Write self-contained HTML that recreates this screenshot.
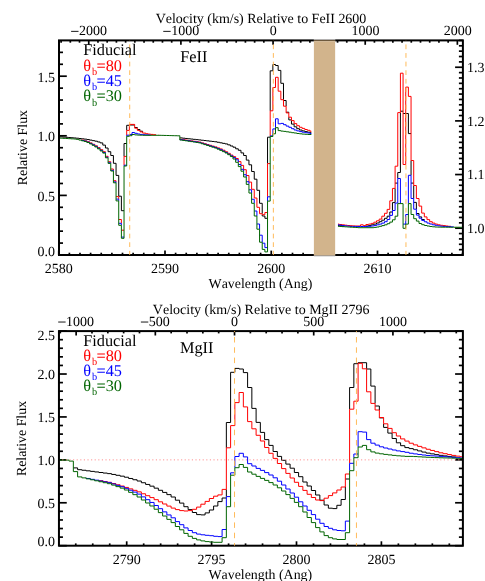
<!DOCTYPE html>
<html><head><meta charset="utf-8"><title>Spectra</title>
<style>
html,body{margin:0;padding:0;background:#fff;}
body{width:485px;height:581px;overflow:hidden;font-family:"Liberation Serif",serif;}
svg{display:block;font-family:"Liberation Serif",serif;will-change:transform;}
svg path{fill:none;stroke-width:1;stroke-linejoin:miter;}
svg text{text-rendering:geometricPrecision;font-kerning:none;}
</style></head><body>
<svg width="485" height="581" viewBox="0 0 485 581">
<rect width="485" height="581" fill="#fff"/>
<defs><clipPath id="c1"><rect x="59.9" y="41.3" width="402.10" height="212.80"/></clipPath><clipPath id="c2"><rect x="59.85" y="332.0" width="402.15" height="212.80"/></clipPath></defs>
<rect x="59.00" y="40.40" width="403.90" height="214.60" fill="none" stroke="#000" stroke-width="2.0"/>
<rect x="313.90" y="39.2" width="21.25" height="217.2" fill="#fff"/>
<rect x="313.90" y="39.25" width="21.25" height="0.75" fill="#a8a8a8"/>
<rect x="313.90" y="39.95" width="21.25" height="1.35" fill="#6e5a3e"/>
<rect x="313.90" y="41.25" width="21.25" height="213.85" fill="#d2b48c"/>
<rect x="313.90" y="255.05" width="21.25" height="0.7" fill="#8f7655"/>
<rect x="313.90" y="255.7" width="21.25" height="0.6" fill="#a0a0a4"/>
<line x1="58.75" y1="255.00" x2="58.75" y2="250.60" stroke="#000" stroke-width="1.7" />
<line x1="69.38" y1="255.00" x2="69.38" y2="252.70" stroke="#000" stroke-width="1.7" />
<line x1="80.00" y1="255.00" x2="80.00" y2="252.70" stroke="#000" stroke-width="1.7" />
<line x1="90.62" y1="255.00" x2="90.62" y2="252.70" stroke="#000" stroke-width="1.7" />
<line x1="101.25" y1="255.00" x2="101.25" y2="252.70" stroke="#000" stroke-width="1.7" />
<line x1="111.88" y1="255.00" x2="111.88" y2="252.70" stroke="#000" stroke-width="1.7" />
<line x1="122.50" y1="255.00" x2="122.50" y2="252.70" stroke="#000" stroke-width="1.7" />
<line x1="133.12" y1="255.00" x2="133.12" y2="252.70" stroke="#000" stroke-width="1.7" />
<line x1="143.75" y1="255.00" x2="143.75" y2="252.70" stroke="#000" stroke-width="1.7" />
<line x1="154.38" y1="255.00" x2="154.38" y2="252.70" stroke="#000" stroke-width="1.7" />
<line x1="165.00" y1="255.00" x2="165.00" y2="250.60" stroke="#000" stroke-width="1.7" />
<line x1="175.62" y1="255.00" x2="175.62" y2="252.70" stroke="#000" stroke-width="1.7" />
<line x1="186.25" y1="255.00" x2="186.25" y2="252.70" stroke="#000" stroke-width="1.7" />
<line x1="196.88" y1="255.00" x2="196.88" y2="252.70" stroke="#000" stroke-width="1.7" />
<line x1="207.50" y1="255.00" x2="207.50" y2="252.70" stroke="#000" stroke-width="1.7" />
<line x1="218.12" y1="255.00" x2="218.12" y2="252.70" stroke="#000" stroke-width="1.7" />
<line x1="228.75" y1="255.00" x2="228.75" y2="252.70" stroke="#000" stroke-width="1.7" />
<line x1="239.38" y1="255.00" x2="239.38" y2="252.70" stroke="#000" stroke-width="1.7" />
<line x1="250.00" y1="255.00" x2="250.00" y2="252.70" stroke="#000" stroke-width="1.7" />
<line x1="260.62" y1="255.00" x2="260.62" y2="252.70" stroke="#000" stroke-width="1.7" />
<line x1="271.25" y1="255.00" x2="271.25" y2="250.60" stroke="#000" stroke-width="1.7" />
<line x1="281.88" y1="255.00" x2="281.88" y2="252.70" stroke="#000" stroke-width="1.7" />
<line x1="292.50" y1="255.00" x2="292.50" y2="252.70" stroke="#000" stroke-width="1.7" />
<line x1="303.12" y1="255.00" x2="303.12" y2="252.70" stroke="#000" stroke-width="1.7" />
<line x1="345.62" y1="255.00" x2="345.62" y2="252.70" stroke="#000" stroke-width="1.7" />
<line x1="356.25" y1="255.00" x2="356.25" y2="252.70" stroke="#000" stroke-width="1.7" />
<line x1="366.88" y1="255.00" x2="366.88" y2="252.70" stroke="#000" stroke-width="1.7" />
<line x1="377.50" y1="255.00" x2="377.50" y2="250.60" stroke="#000" stroke-width="1.7" />
<line x1="388.12" y1="255.00" x2="388.12" y2="252.70" stroke="#000" stroke-width="1.7" />
<line x1="398.75" y1="255.00" x2="398.75" y2="252.70" stroke="#000" stroke-width="1.7" />
<line x1="409.38" y1="255.00" x2="409.38" y2="252.70" stroke="#000" stroke-width="1.7" />
<line x1="420.00" y1="255.00" x2="420.00" y2="252.70" stroke="#000" stroke-width="1.7" />
<line x1="430.62" y1="255.00" x2="430.62" y2="252.70" stroke="#000" stroke-width="1.7" />
<line x1="441.25" y1="255.00" x2="441.25" y2="252.70" stroke="#000" stroke-width="1.7" />
<line x1="451.88" y1="255.00" x2="451.88" y2="252.70" stroke="#000" stroke-width="1.7" />
<line x1="462.50" y1="255.00" x2="462.50" y2="252.70" stroke="#000" stroke-width="1.7" />
<line x1="61.10" y1="40.40" x2="61.10" y2="42.70" stroke="#000" stroke-width="1.7" />
<line x1="70.32" y1="40.40" x2="70.32" y2="42.70" stroke="#000" stroke-width="1.7" />
<line x1="79.53" y1="40.40" x2="79.53" y2="42.70" stroke="#000" stroke-width="1.7" />
<line x1="88.75" y1="40.40" x2="88.75" y2="44.80" stroke="#000" stroke-width="1.7" />
<line x1="97.97" y1="40.40" x2="97.97" y2="42.70" stroke="#000" stroke-width="1.7" />
<line x1="107.18" y1="40.40" x2="107.18" y2="42.70" stroke="#000" stroke-width="1.7" />
<line x1="116.40" y1="40.40" x2="116.40" y2="42.70" stroke="#000" stroke-width="1.7" />
<line x1="125.61" y1="40.40" x2="125.61" y2="42.70" stroke="#000" stroke-width="1.7" />
<line x1="134.83" y1="40.40" x2="134.83" y2="42.70" stroke="#000" stroke-width="1.7" />
<line x1="144.04" y1="40.40" x2="144.04" y2="42.70" stroke="#000" stroke-width="1.7" />
<line x1="153.26" y1="40.40" x2="153.26" y2="42.70" stroke="#000" stroke-width="1.7" />
<line x1="162.47" y1="40.40" x2="162.47" y2="42.70" stroke="#000" stroke-width="1.7" />
<line x1="171.69" y1="40.40" x2="171.69" y2="42.70" stroke="#000" stroke-width="1.7" />
<line x1="180.90" y1="40.40" x2="180.90" y2="44.80" stroke="#000" stroke-width="1.7" />
<line x1="190.12" y1="40.40" x2="190.12" y2="42.70" stroke="#000" stroke-width="1.7" />
<line x1="199.33" y1="40.40" x2="199.33" y2="42.70" stroke="#000" stroke-width="1.7" />
<line x1="208.55" y1="40.40" x2="208.55" y2="42.70" stroke="#000" stroke-width="1.7" />
<line x1="217.76" y1="40.40" x2="217.76" y2="42.70" stroke="#000" stroke-width="1.7" />
<line x1="226.98" y1="40.40" x2="226.98" y2="42.70" stroke="#000" stroke-width="1.7" />
<line x1="236.20" y1="40.40" x2="236.20" y2="42.70" stroke="#000" stroke-width="1.7" />
<line x1="245.41" y1="40.40" x2="245.41" y2="42.70" stroke="#000" stroke-width="1.7" />
<line x1="254.63" y1="40.40" x2="254.63" y2="42.70" stroke="#000" stroke-width="1.7" />
<line x1="263.84" y1="40.40" x2="263.84" y2="42.70" stroke="#000" stroke-width="1.7" />
<line x1="273.06" y1="40.40" x2="273.06" y2="44.80" stroke="#000" stroke-width="1.7" />
<line x1="282.27" y1="40.40" x2="282.27" y2="42.70" stroke="#000" stroke-width="1.7" />
<line x1="291.49" y1="40.40" x2="291.49" y2="42.70" stroke="#000" stroke-width="1.7" />
<line x1="300.70" y1="40.40" x2="300.70" y2="42.70" stroke="#000" stroke-width="1.7" />
<line x1="309.92" y1="40.40" x2="309.92" y2="42.70" stroke="#000" stroke-width="1.7" />
<line x1="337.56" y1="40.40" x2="337.56" y2="42.70" stroke="#000" stroke-width="1.7" />
<line x1="346.78" y1="40.40" x2="346.78" y2="42.70" stroke="#000" stroke-width="1.7" />
<line x1="355.99" y1="40.40" x2="355.99" y2="42.70" stroke="#000" stroke-width="1.7" />
<line x1="365.21" y1="40.40" x2="365.21" y2="44.80" stroke="#000" stroke-width="1.7" />
<line x1="374.42" y1="40.40" x2="374.42" y2="42.70" stroke="#000" stroke-width="1.7" />
<line x1="383.64" y1="40.40" x2="383.64" y2="42.70" stroke="#000" stroke-width="1.7" />
<line x1="392.86" y1="40.40" x2="392.86" y2="42.70" stroke="#000" stroke-width="1.7" />
<line x1="402.07" y1="40.40" x2="402.07" y2="42.70" stroke="#000" stroke-width="1.7" />
<line x1="411.29" y1="40.40" x2="411.29" y2="42.70" stroke="#000" stroke-width="1.7" />
<line x1="420.50" y1="40.40" x2="420.50" y2="42.70" stroke="#000" stroke-width="1.7" />
<line x1="429.72" y1="40.40" x2="429.72" y2="42.70" stroke="#000" stroke-width="1.7" />
<line x1="438.93" y1="40.40" x2="438.93" y2="42.70" stroke="#000" stroke-width="1.7" />
<line x1="448.15" y1="40.40" x2="448.15" y2="42.70" stroke="#000" stroke-width="1.7" />
<line x1="457.36" y1="40.40" x2="457.36" y2="44.80" stroke="#000" stroke-width="1.7" />
<line x1="59.00" y1="255.00" x2="66.80" y2="255.00" stroke="#000" stroke-width="1.7" />
<line x1="59.00" y1="243.08" x2="63.00" y2="243.08" stroke="#000" stroke-width="1.7" />
<line x1="59.00" y1="231.16" x2="63.00" y2="231.16" stroke="#000" stroke-width="1.7" />
<line x1="59.00" y1="219.24" x2="63.00" y2="219.24" stroke="#000" stroke-width="1.7" />
<line x1="59.00" y1="207.32" x2="63.00" y2="207.32" stroke="#000" stroke-width="1.7" />
<line x1="59.00" y1="195.40" x2="66.80" y2="195.40" stroke="#000" stroke-width="1.7" />
<line x1="59.00" y1="183.48" x2="63.00" y2="183.48" stroke="#000" stroke-width="1.7" />
<line x1="59.00" y1="171.56" x2="63.00" y2="171.56" stroke="#000" stroke-width="1.7" />
<line x1="59.00" y1="159.64" x2="63.00" y2="159.64" stroke="#000" stroke-width="1.7" />
<line x1="59.00" y1="147.72" x2="63.00" y2="147.72" stroke="#000" stroke-width="1.7" />
<line x1="59.00" y1="135.80" x2="66.80" y2="135.80" stroke="#000" stroke-width="1.7" />
<line x1="59.00" y1="123.88" x2="63.00" y2="123.88" stroke="#000" stroke-width="1.7" />
<line x1="59.00" y1="111.96" x2="63.00" y2="111.96" stroke="#000" stroke-width="1.7" />
<line x1="59.00" y1="100.04" x2="63.00" y2="100.04" stroke="#000" stroke-width="1.7" />
<line x1="59.00" y1="88.12" x2="63.00" y2="88.12" stroke="#000" stroke-width="1.7" />
<line x1="59.00" y1="76.20" x2="66.80" y2="76.20" stroke="#000" stroke-width="1.7" />
<line x1="59.00" y1="64.28" x2="63.00" y2="64.28" stroke="#000" stroke-width="1.7" />
<line x1="59.00" y1="52.36" x2="63.00" y2="52.36" stroke="#000" stroke-width="1.7" />
<line x1="462.90" y1="255.03" x2="458.90" y2="255.03" stroke="#000" stroke-width="1.7" />
<line x1="462.90" y1="249.66" x2="458.90" y2="249.66" stroke="#000" stroke-width="1.7" />
<line x1="462.90" y1="244.30" x2="458.90" y2="244.30" stroke="#000" stroke-width="1.7" />
<line x1="462.90" y1="238.93" x2="458.90" y2="238.93" stroke="#000" stroke-width="1.7" />
<line x1="462.90" y1="233.56" x2="458.90" y2="233.56" stroke="#000" stroke-width="1.7" />
<line x1="462.90" y1="228.20" x2="455.10" y2="228.20" stroke="#000" stroke-width="1.7" />
<line x1="462.90" y1="222.83" x2="458.90" y2="222.83" stroke="#000" stroke-width="1.7" />
<line x1="462.90" y1="217.47" x2="458.90" y2="217.47" stroke="#000" stroke-width="1.7" />
<line x1="462.90" y1="212.10" x2="458.90" y2="212.10" stroke="#000" stroke-width="1.7" />
<line x1="462.90" y1="206.74" x2="458.90" y2="206.74" stroke="#000" stroke-width="1.7" />
<line x1="462.90" y1="201.37" x2="458.90" y2="201.37" stroke="#000" stroke-width="1.7" />
<line x1="462.90" y1="196.01" x2="458.90" y2="196.01" stroke="#000" stroke-width="1.7" />
<line x1="462.90" y1="190.64" x2="458.90" y2="190.64" stroke="#000" stroke-width="1.7" />
<line x1="462.90" y1="185.28" x2="458.90" y2="185.28" stroke="#000" stroke-width="1.7" />
<line x1="462.90" y1="179.91" x2="458.90" y2="179.91" stroke="#000" stroke-width="1.7" />
<line x1="462.90" y1="174.55" x2="455.10" y2="174.55" stroke="#000" stroke-width="1.7" />
<line x1="462.90" y1="169.18" x2="458.90" y2="169.18" stroke="#000" stroke-width="1.7" />
<line x1="462.90" y1="163.82" x2="458.90" y2="163.82" stroke="#000" stroke-width="1.7" />
<line x1="462.90" y1="158.46" x2="458.90" y2="158.46" stroke="#000" stroke-width="1.7" />
<line x1="462.90" y1="153.09" x2="458.90" y2="153.09" stroke="#000" stroke-width="1.7" />
<line x1="462.90" y1="147.73" x2="458.90" y2="147.73" stroke="#000" stroke-width="1.7" />
<line x1="462.90" y1="142.36" x2="458.90" y2="142.36" stroke="#000" stroke-width="1.7" />
<line x1="462.90" y1="137.00" x2="458.90" y2="137.00" stroke="#000" stroke-width="1.7" />
<line x1="462.90" y1="131.63" x2="458.90" y2="131.63" stroke="#000" stroke-width="1.7" />
<line x1="462.90" y1="126.27" x2="458.90" y2="126.27" stroke="#000" stroke-width="1.7" />
<line x1="462.90" y1="120.90" x2="455.10" y2="120.90" stroke="#000" stroke-width="1.7" />
<line x1="462.90" y1="115.54" x2="458.90" y2="115.54" stroke="#000" stroke-width="1.7" />
<line x1="462.90" y1="110.17" x2="458.90" y2="110.17" stroke="#000" stroke-width="1.7" />
<line x1="462.90" y1="104.80" x2="458.90" y2="104.80" stroke="#000" stroke-width="1.7" />
<line x1="462.90" y1="99.44" x2="458.90" y2="99.44" stroke="#000" stroke-width="1.7" />
<line x1="462.90" y1="94.07" x2="458.90" y2="94.07" stroke="#000" stroke-width="1.7" />
<line x1="462.90" y1="88.71" x2="458.90" y2="88.71" stroke="#000" stroke-width="1.7" />
<line x1="462.90" y1="83.34" x2="458.90" y2="83.34" stroke="#000" stroke-width="1.7" />
<line x1="462.90" y1="77.98" x2="458.90" y2="77.98" stroke="#000" stroke-width="1.7" />
<line x1="462.90" y1="72.61" x2="458.90" y2="72.61" stroke="#000" stroke-width="1.7" />
<line x1="462.90" y1="67.25" x2="455.10" y2="67.25" stroke="#000" stroke-width="1.7" />
<line x1="462.90" y1="61.88" x2="458.90" y2="61.88" stroke="#000" stroke-width="1.7" />
<line x1="462.90" y1="56.52" x2="458.90" y2="56.52" stroke="#000" stroke-width="1.7" />
<line x1="462.90" y1="51.15" x2="458.90" y2="51.15" stroke="#000" stroke-width="1.7" />
<line x1="462.90" y1="45.79" x2="458.90" y2="45.79" stroke="#000" stroke-width="1.7" />
<line x1="462.90" y1="40.42" x2="458.90" y2="40.42" stroke="#000" stroke-width="1.7" />
<g clip-path="url(#c1)">
<path d="M60.70 136.80L60.26 136.80L60.26 136.88L62.91 136.88L62.91 137.10L65.57 137.10L65.57 137.31L68.23 137.31L68.23 137.53L70.89 137.53L70.89 137.74L73.54 137.74L73.54 137.96L76.20 137.96L76.20 138.21L78.86 138.21L78.86 138.52L81.52 138.52L81.52 138.83L84.17 138.83L84.17 139.14L86.83 139.14L86.83 139.56L89.49 139.56L89.49 140.10L92.15 140.10L92.15 140.64L94.80 140.64L94.80 141.18L97.46 141.18L97.46 141.96L100.12 141.96L100.12 142.90L102.78 142.90L102.78 145.10L105.43 145.10L105.43 148.00L108.09 148.00L108.09 151.70L110.75 151.70L110.75 155.50L113.41 155.50L113.41 163.30L116.06 163.30L116.06 175.40L118.72 175.40L118.72 196.20L121.38 196.20L121.38 210.70L124.04 210.70 M124.04 156.40L124.04 143.50L126.69 143.50 M126.69 130.40L126.69 125.30L129.35 125.30 M129.35 125.00L134.67 125.00 M134.67 127.50L137.32 127.50L137.32 128.20 M137.32 129.50L139.98 129.50L139.98 130.40 M139.98 131.20L142.64 131.20L142.64 131.90 M145.30 132.80L145.30 133.10 M147.95 134.10L147.95 134.20 M150.61 134.40L150.61 134.50 M153.27 134.70L153.27 134.80 M155.93 134.85L155.93 134.95 M158.58 135.00L158.58 135.10 M161.24 135.10L161.24 135.19 M163.90 135.19L163.90 135.27 M166.56 135.27L166.56 135.34 M169.21 135.36L169.21 135.41 M179.84 137.90L182.50 137.90L182.50 138.19L185.16 138.19L185.16 138.48L187.82 138.48L187.82 138.77L190.47 138.77L190.47 139.06L193.13 139.06L193.13 139.35L195.79 139.35L195.79 139.64L198.45 139.64L198.45 139.93L201.10 139.93L201.10 140.24L203.76 140.24L203.76 140.54L206.42 140.54L206.42 140.85L209.08 140.85L209.08 141.16L211.73 141.16L211.73 141.46L214.39 141.46L214.39 141.77L217.05 141.77L217.05 142.28L219.71 142.28L219.71 142.82L222.36 142.82L222.36 143.36L225.02 143.36L225.02 143.90L227.68 143.90L227.68 144.85L230.34 144.85L230.34 146.00L232.99 146.00L232.99 147.20L235.65 147.20L235.65 148.80L238.31 148.80L238.31 150.30L240.97 150.30L240.97 152.90L243.62 152.90L243.62 155.50L246.28 155.50L246.28 160.10L248.94 160.10L248.94 164.80L251.60 164.80L251.60 171.50L254.25 171.50L254.25 179.20L256.91 179.20L256.91 190.30L259.57 190.30L259.57 203.30L262.23 203.30L262.23 213.70 M262.23 214.70L262.23 216.00L264.88 216.00L264.88 218.30L267.54 218.30 M267.54 163.60L267.54 137.20L270.20 137.20 M270.20 110.80L270.20 70.80L272.86 70.80L272.86 64.50L275.51 64.50L275.51 65.50L278.17 65.50L278.17 70.40L280.83 70.40L280.83 83.30L283.49 83.30L283.49 99.70 M283.49 100.50L286.14 100.50L286.14 106.20 M286.14 112.20L288.80 112.20L288.80 112.90 M288.80 117.20L288.80 119.90L291.46 119.90 M291.46 120.60L291.46 124.10L294.12 124.10L294.12 126.80L296.77 126.80L296.77 128.70L299.43 128.70L299.43 130.00L302.09 130.00L302.09 130.90L304.75 130.90L304.75 131.60L307.40 131.60L307.40 132.20L310.06 132.20L310.06 132.70L311.39 132.70" stroke="#000000"/>
<path d="M60.26 137.70L60.26 137.76 M62.91 137.76L62.91 137.93 M65.57 137.93L65.57 138.09 M68.23 138.09L68.23 138.26 M70.89 138.26L70.89 138.43 M73.54 138.43L73.54 138.59 M76.20 138.59L76.20 138.79 M78.86 138.92L78.86 139.14 M81.52 139.54L81.52 139.81 M81.52 140.16L84.17 140.16L84.17 140.48 M84.17 140.77L86.83 140.77L86.83 141.15 M86.83 141.68L89.49 141.68L89.49 142.11 M89.49 142.91L92.15 142.91L92.15 143.38 M92.15 144.28L94.80 144.28L94.80 144.81 M94.80 145.79L97.46 145.79L97.46 146.37 M97.46 147.62L100.12 147.62L100.12 148.27 M100.12 149.66L102.78 149.66L102.78 150.38 M102.78 151.70L105.43 151.70L105.43 152.50 M105.43 156.30L108.09 156.30L108.09 157.20 M108.09 161.70L110.75 161.70L110.75 162.70 M110.75 169.00L113.41 169.00L113.41 170.30 M113.41 180.70L116.06 180.70L116.06 181.90 M116.06 196.60L118.72 196.60L118.72 199.10 M118.72 219.50L121.38 219.50L121.38 223.30 M121.38 230.20L124.04 230.20 M124.04 165.20L124.04 156.40L126.69 156.40 M126.69 135.20L126.69 130.40L129.35 130.40L129.35 124.40L134.67 124.40L134.67 128.20L137.32 128.20L137.32 130.40L139.98 130.40L139.98 131.90L142.64 131.90L142.64 133.10L145.30 133.10L145.30 133.70L147.95 133.70L147.95 134.10L150.61 134.10L150.61 134.40L153.27 134.40L153.27 134.70L155.93 134.70L155.93 134.85 M158.58 134.85L158.58 135.00 M161.24 135.00L161.24 135.09 M163.90 135.09L163.90 135.17 M166.56 135.17L166.56 135.26 M169.21 135.26L169.21 135.34 M171.87 135.34L171.87 135.43 M174.53 135.43L174.53 135.51 M177.19 135.51L177.19 135.60 M179.84 135.60L179.84 135.70 M179.84 139.30L182.50 139.30L182.50 139.69L185.16 139.69L185.16 140.08L187.82 140.08L187.82 140.47L190.47 140.47L190.47 140.87L193.13 140.87L193.13 141.26L195.79 141.26L195.79 141.65L198.45 141.65L198.45 142.05L201.10 142.08L201.10 142.49 M201.10 142.89L203.76 142.89L203.76 143.32 M203.76 143.69L206.42 143.69L206.42 144.16 M206.42 144.50L209.08 144.50L209.08 145.00 M209.08 145.30L211.73 145.30L211.73 145.84 M211.73 146.11L214.39 146.11L214.39 146.67 M214.39 146.92L217.05 146.92L217.05 147.51 M217.05 147.91L219.71 147.91L219.71 148.59 M219.71 148.93L222.36 148.93L222.36 149.70 M222.36 150.24L225.02 150.24L225.02 151.04 M225.02 151.73L227.68 151.73L227.68 152.53 M227.68 153.37L230.34 153.37L230.34 154.17 M230.34 155.09L232.99 155.09L232.99 155.89 M232.99 156.60L235.65 156.60L235.65 157.60 M235.65 158.50L238.31 158.50L238.31 159.80 M238.31 161.60L240.97 161.60L240.97 164.50 M240.97 165.40L243.62 165.40L243.62 169.30 M243.62 169.70L246.28 169.70L246.28 174.70 M246.28 175.50L248.94 175.50L248.94 181.70 M248.94 182.10L251.60 182.10L251.60 189.30L254.25 189.30L254.25 198.00L256.91 198.00L256.91 207.30L259.57 207.30L259.57 213.70L262.23 213.70L262.23 214.70L264.88 214.70L264.88 212.50L267.54 212.50 M267.54 196.80L267.54 163.60L270.20 163.60 M270.20 135.90L270.20 110.80L272.86 110.80L272.86 87.50L275.51 87.50L275.51 77.30L278.17 77.30L278.17 91.20L280.83 91.20L280.83 99.70L283.49 99.70L283.49 106.20L286.14 106.20L286.14 112.90L288.80 112.90L288.80 117.20L291.46 117.20L291.46 120.60L294.12 120.60L294.12 123.60L296.77 123.60L296.77 125.70L299.43 125.70L299.43 127.30L302.09 127.30L302.09 128.40L304.75 128.40L304.75 129.50L307.40 129.50L307.40 130.30L310.06 130.30L310.06 131.30L311.39 131.30" stroke="#ff0000"/>
<path d="M60.26 137.90L60.26 137.96 M62.91 137.96L62.91 138.13 M65.57 138.13L65.57 138.29 M68.23 138.29L68.23 138.46 M70.89 138.46L70.89 138.63 M73.54 138.63L73.54 138.79 M76.20 138.79L76.20 138.99 M78.86 139.14L78.86 139.35 M81.52 139.81L81.52 140.08 M81.52 140.48L84.17 140.48L84.17 140.80 M84.17 141.15L86.83 141.15L86.83 141.52 M86.83 142.11L89.49 142.11L89.49 142.53 M89.49 143.38L92.15 143.38L92.15 143.86 M92.15 144.81L94.80 144.81L94.80 145.34 M94.80 146.37L97.46 146.37L97.46 146.95 M97.46 148.27L100.12 148.27L100.12 148.87 M100.12 150.38L102.78 150.38L102.78 150.98 M102.78 152.50L105.43 152.50L105.43 153.10 M105.43 157.20L108.09 157.20L108.09 157.80 M108.09 162.70L110.75 162.70L110.75 163.40 M110.75 170.30L113.41 170.30L113.41 171.00 M113.41 181.90L116.06 181.90L116.06 182.80 M116.06 199.10L118.72 199.10L118.72 200.90 M118.72 223.30L121.38 223.30L121.38 225.30 M121.38 237.10L124.04 237.10 M124.04 166.00L124.04 165.20L126.69 165.20 M126.69 136.30L126.69 135.20L129.35 135.20L129.35 134.50L132.01 134.50L132.01 132.50L134.67 132.50L134.67 133.30L137.32 133.30L137.32 134.00L139.98 134.00L139.98 134.40L142.64 134.40L142.64 134.70L145.30 134.70L145.30 134.85L147.95 134.85L147.95 135.00L150.61 135.00L150.61 135.05 M158.58 135.15L158.58 135.20 M161.24 135.20L161.24 135.27 M163.90 135.27L163.90 135.34 M166.56 135.34L166.56 135.41 M169.21 135.41L169.21 135.49 M171.87 135.49L171.87 135.56 M174.53 135.56L174.53 135.63 M177.19 135.63L177.19 135.70 M179.84 135.70L179.84 135.80 M179.84 139.70L182.50 139.70L182.50 140.00 M182.50 140.09L185.16 140.09L185.16 140.41 M185.16 140.48L187.82 140.48L187.82 140.81 M187.82 140.87L190.47 140.87L190.47 141.22L193.13 141.27L193.13 141.62L195.79 141.66L195.79 142.03L198.45 142.05L198.45 142.44L201.10 142.49L201.10 142.89 M201.10 143.32L203.76 143.32L203.76 143.74 M203.76 144.16L206.42 144.16L206.42 144.60 M206.42 145.00L209.08 145.00L209.08 145.45 M209.08 145.84L211.73 145.84L211.73 146.30 M211.73 146.67L214.39 146.67L214.39 147.16 M214.39 147.51L217.05 147.51L217.05 148.01 M217.05 148.59L219.71 148.59L219.71 149.17 M219.71 149.70L222.36 149.70L222.36 150.37 M222.36 151.04L225.02 151.04L225.02 151.65 M225.02 152.53L227.68 152.53L227.68 152.98 M227.68 154.17L230.34 154.17L230.34 154.68 M230.34 155.89L232.99 155.89L232.99 156.55 M232.99 157.60L235.65 157.60L235.65 159.00 M235.65 159.80L238.31 159.80L238.31 162.30 M238.31 164.50L240.97 164.50L240.97 166.60 M240.97 169.30L243.62 169.30L243.62 171.20 M243.62 174.70L246.28 174.70L246.28 177.00 M246.28 181.70L248.94 181.70L248.94 184.40 M248.94 189.80L251.60 189.80L251.60 193.05 M251.60 199.25L254.25 199.25L254.25 203.30 M254.25 211.00L256.91 211.00L256.91 216.00 M256.91 224.00L259.57 224.00L259.57 229.20 M259.57 235.20L262.23 235.20L262.23 242.20 M262.23 243.20L264.88 243.20L264.88 247.60L267.54 247.60 M267.54 201.10L267.54 196.80L270.20 196.80 M270.20 136.50L270.20 135.90L272.86 135.90 M272.86 133.80L272.86 128.90L275.51 128.90 M275.51 127.70L275.51 118.80L278.17 118.80L278.17 123.80L280.83 123.80L280.83 123.40L283.49 123.40L283.49 124.70L286.14 124.70L286.14 126.10L288.80 126.10L288.80 127.30L291.46 127.30L291.46 128.70L294.12 128.70L294.12 130.00L296.77 130.00L296.77 130.90L299.43 130.90L299.43 131.60L302.09 131.60L302.09 132.20L304.75 132.20L304.75 132.70L307.40 132.70L307.40 133.00L310.06 133.00L310.06 133.50L311.39 133.50" stroke="#0000ff"/>
<path d="M60.70 138.10L60.26 138.10L60.26 138.16L62.91 138.16L62.91 138.33L65.57 138.33L65.57 138.49L68.23 138.49L68.23 138.66L70.89 138.66L70.89 138.83L73.54 138.83L73.54 138.99L76.20 138.99L76.20 139.35L78.86 139.35L78.86 140.08L81.52 140.08L81.52 140.80L84.17 140.80L84.17 141.52L86.83 141.52L86.83 142.53L89.49 142.53L89.49 143.86L92.15 143.86L92.15 145.34L94.80 145.34L94.80 146.95L97.46 146.95L97.46 148.87L100.12 148.87L100.12 150.98L102.78 150.98L102.78 153.10L105.43 153.10L105.43 157.80L108.09 157.80L108.09 163.40L110.75 163.40L110.75 171.00L113.41 171.00L113.41 182.80L116.06 182.80L116.06 200.90L118.72 200.90L118.72 225.30L121.38 225.30L121.38 238.30L124.04 238.30L124.04 166.00L126.69 166.00L126.69 136.30L129.35 136.30L129.35 135.70L132.01 135.70L132.01 134.50L134.67 134.50L134.67 134.90L137.32 134.90L137.32 135.10L139.98 135.10L139.98 135.20L142.64 135.20L142.64 135.30L161.24 135.30L161.24 135.37L163.90 135.37L163.90 135.44L166.56 135.44L166.56 135.51L169.21 135.51L169.21 135.59L171.87 135.59L171.87 135.66L174.53 135.66L174.53 135.73L177.19 135.73L177.19 135.80L179.84 135.80L179.84 140.00L182.50 140.00L182.50 140.41L185.16 140.41L185.16 140.81L187.82 140.81L187.82 141.22L190.47 141.22L190.47 141.62L193.13 141.62L193.13 142.03L195.79 142.03L195.79 142.44L198.45 142.44L198.45 142.89L201.10 142.89L201.10 143.74L203.76 143.74L203.76 144.60L206.42 144.60L206.42 145.45L209.08 145.45L209.08 146.30L211.73 146.30L211.73 147.16L214.39 147.16L214.39 148.01L217.05 148.01L217.05 149.17L219.71 149.17L219.71 150.37L222.36 150.37L222.36 151.65L225.02 151.65L225.02 152.98L227.68 152.98L227.68 154.68L230.34 154.68L230.34 156.55L232.99 156.55L232.99 159.00L235.65 159.00L235.65 162.30L238.31 162.30L238.31 166.60L240.97 166.60L240.97 171.20L243.62 171.20L243.62 177.00L246.28 177.00L246.28 184.40L248.94 184.40L248.94 193.05L251.60 193.05L251.60 203.30L254.25 203.30L254.25 216.00L256.91 216.00L256.91 229.20L259.57 229.20L259.57 242.20L262.23 242.20L262.23 249.40L264.88 249.40L264.88 251.90L267.54 251.90L267.54 201.10L270.20 201.10L270.20 136.50L272.86 136.50L272.86 133.80L275.51 133.80L275.51 127.70L278.17 127.70L278.17 130.60L280.83 130.60L280.83 131.10L283.49 131.10L283.49 131.40L286.14 131.40L286.14 131.80L288.80 131.80L288.80 132.20L291.46 132.20L291.46 132.70L294.12 132.70L294.12 133.00L296.77 133.00L296.77 133.50L299.43 133.50L299.43 133.80L302.09 133.80L302.09 134.10L304.75 134.10L304.75 134.30L307.40 134.30L307.40 134.50L311.39 134.50" stroke="#006400"/>
<path d="M337.97 225.60L339.29 225.60L339.29 225.80L341.95 225.80L341.95 226.00L344.61 226.00L344.61 226.10 M347.27 226.13L347.27 226.20 M365.87 226.30L365.87 226.00L368.53 226.00L368.53 225.60L371.19 225.60L371.19 224.80L373.84 224.80L373.84 224.10L376.50 224.10L376.50 223.00L379.16 223.00L379.16 221.70L381.81 221.70L381.81 220.20L384.47 220.20L384.47 218.30L387.13 218.30L387.13 216.20L389.79 216.20 M389.79 215.40L389.79 212.00L392.44 212.00 M392.44 210.50L392.44 202.60L395.10 202.60L395.10 188.40 M395.10 183.10L397.76 183.10 M397.76 178.50L397.76 172.50L400.42 172.50L400.42 112.60 M400.42 111.20L403.07 111.20 M403.07 113.50L408.39 113.50L408.39 133.60L411.05 133.60 M411.05 160.50L411.05 175.30 M411.05 183.10L413.71 183.10 M413.71 185.50L413.71 198.50 M413.71 202.40L416.36 202.40L416.36 209.20 M416.36 213.50L419.02 213.50L419.02 215.10 M419.02 216.90L421.68 216.90L421.68 218.20 M421.68 219.50L424.34 219.50L424.34 220.40 M426.99 221.70L426.99 221.80 M429.65 224.00L429.65 224.10 M442.94 226.40L442.94 226.50 M445.60 226.60L445.60 226.70 M448.25 226.73L448.25 226.80" stroke="#000000"/>
<path d="M337.97 224.10L339.29 224.10L339.29 224.50L341.95 224.50L341.95 224.80L344.61 224.80L344.61 225.20L347.27 225.20L347.27 225.50L349.93 225.50L349.93 225.70L352.58 225.70L352.58 225.90L355.24 225.90L355.24 226.00L360.56 226.00L360.56 224.80L363.21 224.80L363.21 225.60L365.87 225.60L365.87 224.50L368.53 224.50L368.53 224.10L371.19 224.10L371.19 223.40L373.84 223.40L373.84 222.20L376.50 222.20L376.50 220.80L379.16 220.80L379.16 219.10L381.81 219.10L381.81 216.20L384.47 216.20L384.47 213.30L387.13 213.30L387.13 209.40L389.79 209.40L389.79 200.80L392.44 200.80L392.44 188.40L395.10 188.40L395.10 166.20L397.76 166.20L397.76 112.60L400.42 112.60L400.42 73.20L403.07 73.20L403.07 164.50L405.73 164.50L405.73 87.10L408.39 87.10L408.39 96.40L411.05 96.40L411.05 160.50L413.71 160.50L413.71 185.50L416.36 185.50L416.36 198.50L419.02 198.50L419.02 206.10L421.68 206.10L421.68 213.10L424.34 213.10L424.34 216.90L426.99 216.90L426.99 219.60L429.65 219.60L429.65 221.70L432.31 221.70L432.31 223.10L434.97 223.10L434.97 224.10L437.62 224.10L437.62 224.80L440.28 224.80L440.28 225.30L442.94 225.30L442.94 225.60L445.60 225.60L445.60 226.00L448.25 226.00L448.25 226.30L450.91 226.30L450.91 226.60 M453.57 226.60L453.57 226.80 M456.23 226.80L456.23 226.90 M458.88 226.90L458.88 227.00" stroke="#ff0000"/>
<path d="M337.97 224.80L339.29 224.80L339.29 225.20L341.95 225.20L341.95 225.60L344.61 225.60L344.61 225.87L347.27 225.87L347.27 226.13L349.93 226.13L349.93 226.40L352.58 226.40L355.24 226.43L357.90 226.47L360.56 226.50L363.21 226.53L365.87 226.57L368.53 226.60L368.53 226.30L371.19 226.30L371.19 226.00L373.84 226.00L373.84 225.60L376.50 225.60L376.50 224.80L379.16 224.80L379.16 224.10L381.81 224.10L381.81 223.10L384.47 223.10L384.47 221.70L387.13 221.70L387.13 219.50L389.79 219.50L389.79 215.40L392.44 215.40L392.44 210.50L395.10 210.50L395.10 203.10L397.76 203.10L397.76 178.50L400.42 178.50L400.42 203.60 M403.07 224.10L405.73 224.10L405.73 214.50L408.39 214.50 M408.39 203.60L408.39 175.30L411.05 175.30L411.05 198.50L413.71 198.50L413.71 209.20L416.36 209.20L416.36 215.10L419.02 215.10L419.02 218.20L421.68 218.20L421.68 220.40L424.34 220.40L424.34 221.80L426.99 221.80L426.99 223.10L429.65 223.10L429.65 224.00L432.31 224.00L432.31 224.80L434.97 224.80L434.97 225.30L437.62 225.30L437.62 225.80L440.28 225.80L440.28 226.20L442.94 226.20L442.94 226.40L445.60 226.40L445.60 226.60L448.25 226.60L448.25 226.73L450.91 226.73L450.91 226.87L453.57 226.87L453.57 227.00 M456.23 227.00L456.23 227.07 M458.88 227.07L458.88 227.13 M461.54 227.13L461.54 227.20" stroke="#0000ff"/>
<path d="M337.97 226.30L339.29 226.30L339.29 226.48L341.95 226.48L341.95 226.65L344.61 226.65L344.61 226.82L347.27 226.82L347.27 227.00L349.93 227.00L349.93 227.18L352.58 227.18L352.58 227.35L355.24 227.35L355.24 227.52L357.90 227.52L357.90 227.70L373.84 227.70L373.84 227.40L376.50 227.40L376.50 227.00L379.16 227.00L379.16 226.30L381.81 226.30L381.81 225.60L384.47 225.60L384.47 224.80L387.13 224.80L387.13 223.70L389.79 223.70L389.79 222.10L392.44 222.10L392.44 219.80L395.10 219.80L395.10 216.20L397.76 216.20L397.76 203.60L403.07 203.60L403.07 228.30L405.73 228.30L405.73 224.10L408.39 224.10L408.39 203.60L411.05 203.60L411.05 214.50L413.71 214.50L413.71 218.70L416.36 218.70L416.36 221.10L419.02 221.10L419.02 223.50L421.68 223.50L421.68 224.70L424.34 224.70L424.34 225.50L426.99 225.50L426.99 226.00L429.65 226.00L429.65 226.50L432.31 226.50L432.31 226.80L434.97 226.80L434.97 227.00L437.62 227.00L437.62 227.10L440.28 227.10L440.28 227.20L442.94 227.20L445.60 227.21L448.25 227.22L450.91 227.24L453.57 227.25L456.23 227.26L458.88 227.28L461.54 227.29L462.60 227.30" stroke="#006400"/>
</g>
<line x1="129.71" y1="255.00" x2="129.71" y2="40.40" stroke="#ffb347" stroke-width="0.9" stroke-dasharray="4.75 3.85" stroke-dashoffset="0.6"/>
<line x1="273.36" y1="255.00" x2="273.36" y2="40.40" stroke="#ffb347" stroke-width="0.9" stroke-dasharray="4.75 3.85" stroke-dashoffset="0.6"/>
<line x1="405.96" y1="255.00" x2="405.96" y2="40.40" stroke="#ffb347" stroke-width="0.9" stroke-dasharray="4.75 3.85" stroke-dashoffset="0.6"/>
<text x="58.75" y="273.00" font-size="14.0" text-anchor="middle" fill="#000" >2580</text>
<text x="165.00" y="273.00" font-size="14.0" text-anchor="middle" fill="#000" >2590</text>
<text x="271.25" y="273.00" font-size="14.0" text-anchor="middle" fill="#000" >2600</text>
<text x="377.50" y="273.00" font-size="14.0" text-anchor="middle" fill="#000" >2610</text>
<rect x="71.10" y="30.88" width="7.42" height="0.9" fill="#000"/>
<text x="79.01" y="35.00" font-size="14.0" text-anchor="start" fill="#000" >2000</text>
<rect x="163.25" y="30.88" width="7.42" height="0.9" fill="#000"/>
<text x="171.16" y="35.00" font-size="14.0" text-anchor="start" fill="#000" >1000</text>
<text x="273.36" y="35.00" font-size="14.0" text-anchor="middle" fill="#000" >0</text>
<text x="365.51" y="35.00" font-size="14.0" text-anchor="middle" fill="#000" >1000</text>
<text x="457.66" y="35.00" font-size="14.0" text-anchor="middle" fill="#000" >2000</text>
<text x="261.00" y="22.50" font-size="13.97" text-anchor="middle" fill="#000" >Velocity (km/s) Relative to FeII 2600</text>
<text x="55.00" y="81.70" font-size="14.0" text-anchor="end" fill="#000" >1.5</text>
<text x="55.00" y="141.30" font-size="14.0" text-anchor="end" fill="#000" >1.0</text>
<text x="55.00" y="200.90" font-size="14.0" text-anchor="end" fill="#000" >0.5</text>
<text x="55.00" y="256.20" font-size="14.0" text-anchor="end" fill="#000" >0.0</text>
<text x="467.00" y="72.05" font-size="14.0" text-anchor="start" fill="#000" >1.3</text>
<text x="467.00" y="125.70" font-size="14.0" text-anchor="start" fill="#000" >1.2</text>
<text x="467.00" y="179.35" font-size="14.0" text-anchor="start" fill="#000" >1.1</text>
<text x="467.00" y="233.00" font-size="14.0" text-anchor="start" fill="#000" >1.0</text>
<text x="260.40" y="287.50" font-size="13.9" text-anchor="middle" fill="#000" >Wavelength (Ang)</text>
<text transform="translate(26.5,147.6) rotate(-90)" font-size="13.9" text-anchor="middle">Relative Flux</text>
<text x="83.20" y="55.40" font-size="16.3" text-anchor="start" fill="#000" >Fiducial</text>
<text x="83.20" y="70.60" font-size="16.3" fill="#ff0000">θ<tspan font-size="10.3" dx="0.9" dy="4.5">b</tspan><tspan dx="-0.6" dy="-4.5">=80</tspan></text>
<text x="83.20" y="85.80" font-size="16.3" fill="#0000ff">θ<tspan font-size="10.3" dx="0.9" dy="4.5">b</tspan><tspan dx="-0.6" dy="-4.5">=45</tspan></text>
<text x="83.20" y="101.00" font-size="16.3" fill="#006400">θ<tspan font-size="10.3" dx="0.9" dy="4.5">b</tspan><tspan dx="-0.6" dy="-4.5">=30</tspan></text>
<text x="180.20" y="62.30" font-size="16.3" text-anchor="start" fill="#000" >FeII</text>
<rect x="58.95" y="331.10" width="403.95" height="214.60" fill="none" stroke="#000" stroke-width="2.0"/>
<line x1="75.76" y1="545.70" x2="75.76" y2="543.40" stroke="#000" stroke-width="1.7" />
<line x1="92.74" y1="545.70" x2="92.74" y2="543.40" stroke="#000" stroke-width="1.7" />
<line x1="109.72" y1="545.70" x2="109.72" y2="543.40" stroke="#000" stroke-width="1.7" />
<line x1="126.70" y1="545.70" x2="126.70" y2="541.30" stroke="#000" stroke-width="1.7" />
<line x1="143.68" y1="545.70" x2="143.68" y2="543.40" stroke="#000" stroke-width="1.7" />
<line x1="160.66" y1="545.70" x2="160.66" y2="543.40" stroke="#000" stroke-width="1.7" />
<line x1="177.64" y1="545.70" x2="177.64" y2="543.40" stroke="#000" stroke-width="1.7" />
<line x1="194.62" y1="545.70" x2="194.62" y2="543.40" stroke="#000" stroke-width="1.7" />
<line x1="211.60" y1="545.70" x2="211.60" y2="541.30" stroke="#000" stroke-width="1.7" />
<line x1="228.58" y1="545.70" x2="228.58" y2="543.40" stroke="#000" stroke-width="1.7" />
<line x1="245.56" y1="545.70" x2="245.56" y2="543.40" stroke="#000" stroke-width="1.7" />
<line x1="262.54" y1="545.70" x2="262.54" y2="543.40" stroke="#000" stroke-width="1.7" />
<line x1="279.52" y1="545.70" x2="279.52" y2="543.40" stroke="#000" stroke-width="1.7" />
<line x1="296.50" y1="545.70" x2="296.50" y2="541.30" stroke="#000" stroke-width="1.7" />
<line x1="313.48" y1="545.70" x2="313.48" y2="543.40" stroke="#000" stroke-width="1.7" />
<line x1="330.46" y1="545.70" x2="330.46" y2="543.40" stroke="#000" stroke-width="1.7" />
<line x1="347.44" y1="545.70" x2="347.44" y2="543.40" stroke="#000" stroke-width="1.7" />
<line x1="364.42" y1="545.70" x2="364.42" y2="543.40" stroke="#000" stroke-width="1.7" />
<line x1="381.40" y1="545.70" x2="381.40" y2="541.30" stroke="#000" stroke-width="1.7" />
<line x1="398.38" y1="545.70" x2="398.38" y2="543.40" stroke="#000" stroke-width="1.7" />
<line x1="415.36" y1="545.70" x2="415.36" y2="543.40" stroke="#000" stroke-width="1.7" />
<line x1="432.34" y1="545.70" x2="432.34" y2="543.40" stroke="#000" stroke-width="1.7" />
<line x1="449.32" y1="545.70" x2="449.32" y2="543.40" stroke="#000" stroke-width="1.7" />
<line x1="60.30" y1="331.10" x2="60.30" y2="333.40" stroke="#000" stroke-width="1.7" />
<line x1="76.14" y1="331.10" x2="76.14" y2="335.50" stroke="#000" stroke-width="1.7" />
<line x1="91.98" y1="331.10" x2="91.98" y2="333.40" stroke="#000" stroke-width="1.7" />
<line x1="107.82" y1="331.10" x2="107.82" y2="333.40" stroke="#000" stroke-width="1.7" />
<line x1="123.65" y1="331.10" x2="123.65" y2="333.40" stroke="#000" stroke-width="1.7" />
<line x1="139.49" y1="331.10" x2="139.49" y2="333.40" stroke="#000" stroke-width="1.7" />
<line x1="155.33" y1="331.10" x2="155.33" y2="335.50" stroke="#000" stroke-width="1.7" />
<line x1="171.17" y1="331.10" x2="171.17" y2="333.40" stroke="#000" stroke-width="1.7" />
<line x1="187.01" y1="331.10" x2="187.01" y2="333.40" stroke="#000" stroke-width="1.7" />
<line x1="202.85" y1="331.10" x2="202.85" y2="333.40" stroke="#000" stroke-width="1.7" />
<line x1="218.68" y1="331.10" x2="218.68" y2="333.40" stroke="#000" stroke-width="1.7" />
<line x1="234.52" y1="331.10" x2="234.52" y2="335.50" stroke="#000" stroke-width="1.7" />
<line x1="250.36" y1="331.10" x2="250.36" y2="333.40" stroke="#000" stroke-width="1.7" />
<line x1="266.20" y1="331.10" x2="266.20" y2="333.40" stroke="#000" stroke-width="1.7" />
<line x1="282.04" y1="331.10" x2="282.04" y2="333.40" stroke="#000" stroke-width="1.7" />
<line x1="297.88" y1="331.10" x2="297.88" y2="333.40" stroke="#000" stroke-width="1.7" />
<line x1="313.71" y1="331.10" x2="313.71" y2="335.50" stroke="#000" stroke-width="1.7" />
<line x1="329.55" y1="331.10" x2="329.55" y2="333.40" stroke="#000" stroke-width="1.7" />
<line x1="345.39" y1="331.10" x2="345.39" y2="333.40" stroke="#000" stroke-width="1.7" />
<line x1="361.23" y1="331.10" x2="361.23" y2="333.40" stroke="#000" stroke-width="1.7" />
<line x1="377.07" y1="331.10" x2="377.07" y2="333.40" stroke="#000" stroke-width="1.7" />
<line x1="392.91" y1="331.10" x2="392.91" y2="335.50" stroke="#000" stroke-width="1.7" />
<line x1="408.74" y1="331.10" x2="408.74" y2="333.40" stroke="#000" stroke-width="1.7" />
<line x1="424.58" y1="331.10" x2="424.58" y2="333.40" stroke="#000" stroke-width="1.7" />
<line x1="440.42" y1="331.10" x2="440.42" y2="333.40" stroke="#000" stroke-width="1.7" />
<line x1="456.26" y1="331.10" x2="456.26" y2="333.40" stroke="#000" stroke-width="1.7" />
<line x1="58.95" y1="545.70" x2="66.75" y2="545.70" stroke="#000" stroke-width="1.7" />
<line x1="462.90" y1="545.70" x2="455.10" y2="545.70" stroke="#000" stroke-width="1.7" />
<line x1="58.95" y1="537.12" x2="62.95" y2="537.12" stroke="#000" stroke-width="1.7" />
<line x1="462.90" y1="537.12" x2="458.90" y2="537.12" stroke="#000" stroke-width="1.7" />
<line x1="58.95" y1="528.53" x2="62.95" y2="528.53" stroke="#000" stroke-width="1.7" />
<line x1="462.90" y1="528.53" x2="458.90" y2="528.53" stroke="#000" stroke-width="1.7" />
<line x1="58.95" y1="519.95" x2="62.95" y2="519.95" stroke="#000" stroke-width="1.7" />
<line x1="462.90" y1="519.95" x2="458.90" y2="519.95" stroke="#000" stroke-width="1.7" />
<line x1="58.95" y1="511.36" x2="62.95" y2="511.36" stroke="#000" stroke-width="1.7" />
<line x1="462.90" y1="511.36" x2="458.90" y2="511.36" stroke="#000" stroke-width="1.7" />
<line x1="58.95" y1="502.78" x2="66.75" y2="502.78" stroke="#000" stroke-width="1.7" />
<line x1="462.90" y1="502.78" x2="455.10" y2="502.78" stroke="#000" stroke-width="1.7" />
<line x1="58.95" y1="494.20" x2="62.95" y2="494.20" stroke="#000" stroke-width="1.7" />
<line x1="462.90" y1="494.20" x2="458.90" y2="494.20" stroke="#000" stroke-width="1.7" />
<line x1="58.95" y1="485.61" x2="62.95" y2="485.61" stroke="#000" stroke-width="1.7" />
<line x1="462.90" y1="485.61" x2="458.90" y2="485.61" stroke="#000" stroke-width="1.7" />
<line x1="58.95" y1="477.03" x2="62.95" y2="477.03" stroke="#000" stroke-width="1.7" />
<line x1="462.90" y1="477.03" x2="458.90" y2="477.03" stroke="#000" stroke-width="1.7" />
<line x1="58.95" y1="468.44" x2="62.95" y2="468.44" stroke="#000" stroke-width="1.7" />
<line x1="462.90" y1="468.44" x2="458.90" y2="468.44" stroke="#000" stroke-width="1.7" />
<line x1="58.95" y1="459.86" x2="66.75" y2="459.86" stroke="#000" stroke-width="1.7" />
<line x1="462.90" y1="459.86" x2="455.10" y2="459.86" stroke="#000" stroke-width="1.7" />
<line x1="58.95" y1="451.28" x2="62.95" y2="451.28" stroke="#000" stroke-width="1.7" />
<line x1="462.90" y1="451.28" x2="458.90" y2="451.28" stroke="#000" stroke-width="1.7" />
<line x1="58.95" y1="442.69" x2="62.95" y2="442.69" stroke="#000" stroke-width="1.7" />
<line x1="462.90" y1="442.69" x2="458.90" y2="442.69" stroke="#000" stroke-width="1.7" />
<line x1="58.95" y1="434.11" x2="62.95" y2="434.11" stroke="#000" stroke-width="1.7" />
<line x1="462.90" y1="434.11" x2="458.90" y2="434.11" stroke="#000" stroke-width="1.7" />
<line x1="58.95" y1="425.52" x2="62.95" y2="425.52" stroke="#000" stroke-width="1.7" />
<line x1="462.90" y1="425.52" x2="458.90" y2="425.52" stroke="#000" stroke-width="1.7" />
<line x1="58.95" y1="416.94" x2="66.75" y2="416.94" stroke="#000" stroke-width="1.7" />
<line x1="462.90" y1="416.94" x2="455.10" y2="416.94" stroke="#000" stroke-width="1.7" />
<line x1="58.95" y1="408.36" x2="62.95" y2="408.36" stroke="#000" stroke-width="1.7" />
<line x1="462.90" y1="408.36" x2="458.90" y2="408.36" stroke="#000" stroke-width="1.7" />
<line x1="58.95" y1="399.77" x2="62.95" y2="399.77" stroke="#000" stroke-width="1.7" />
<line x1="462.90" y1="399.77" x2="458.90" y2="399.77" stroke="#000" stroke-width="1.7" />
<line x1="58.95" y1="391.19" x2="62.95" y2="391.19" stroke="#000" stroke-width="1.7" />
<line x1="462.90" y1="391.19" x2="458.90" y2="391.19" stroke="#000" stroke-width="1.7" />
<line x1="58.95" y1="382.60" x2="62.95" y2="382.60" stroke="#000" stroke-width="1.7" />
<line x1="462.90" y1="382.60" x2="458.90" y2="382.60" stroke="#000" stroke-width="1.7" />
<line x1="58.95" y1="374.02" x2="66.75" y2="374.02" stroke="#000" stroke-width="1.7" />
<line x1="462.90" y1="374.02" x2="455.10" y2="374.02" stroke="#000" stroke-width="1.7" />
<line x1="58.95" y1="365.44" x2="62.95" y2="365.44" stroke="#000" stroke-width="1.7" />
<line x1="462.90" y1="365.44" x2="458.90" y2="365.44" stroke="#000" stroke-width="1.7" />
<line x1="58.95" y1="356.85" x2="62.95" y2="356.85" stroke="#000" stroke-width="1.7" />
<line x1="462.90" y1="356.85" x2="458.90" y2="356.85" stroke="#000" stroke-width="1.7" />
<line x1="58.95" y1="348.27" x2="62.95" y2="348.27" stroke="#000" stroke-width="1.7" />
<line x1="462.90" y1="348.27" x2="458.90" y2="348.27" stroke="#000" stroke-width="1.7" />
<line x1="58.95" y1="339.68" x2="62.95" y2="339.68" stroke="#000" stroke-width="1.7" />
<line x1="462.90" y1="339.68" x2="458.90" y2="339.68" stroke="#000" stroke-width="1.7" />
<line x1="58.95" y1="331.10" x2="66.75" y2="331.10" stroke="#000" stroke-width="1.7" />
<line x1="462.90" y1="331.10" x2="455.10" y2="331.10" stroke="#000" stroke-width="1.7" />
<g clip-path="url(#c2)">
<path d="M73.35 467.90L77.60 467.90L77.60 469.70L81.85 469.70L81.85 470.26L86.10 470.26L86.10 470.82L90.35 470.82L90.35 471.38L94.60 471.38L94.60 471.95L98.85 471.95L98.85 472.51L103.10 472.51L103.10 473.07L107.35 473.07L107.35 473.63L111.60 473.63L111.60 474.45L115.85 474.45L115.85 475.31L120.10 475.31L120.10 476.16L124.35 476.16L124.35 477.22L128.60 477.22L128.60 478.48L132.85 478.48L132.85 479.74L137.10 479.74L137.10 481.03L141.35 481.03L141.35 482.74L145.60 482.74L145.60 484.45L149.85 484.45L149.85 486.17L154.10 486.17L154.10 488.16L158.35 488.16L158.35 490.29L162.60 490.29L162.60 492.41L166.85 492.41L166.85 494.62L171.10 494.62L171.10 497.00L175.35 497.00L175.35 500.20L179.60 500.20L179.60 503.10L183.85 503.10L183.85 506.70L188.10 506.70L188.10 509.60L192.35 509.60 M192.35 510.60L192.35 512.50L196.60 512.50L196.60 514.60L200.85 514.60L200.85 514.90L205.10 514.90L205.10 512.90L209.35 512.90L209.35 510.00L213.60 510.00L213.60 506.00L217.85 506.00L217.85 501.60L222.10 501.60L222.10 498.00L226.35 498.00 M226.35 496.60L226.35 489.40 M226.35 447.80L226.35 422.50L230.60 422.50L230.60 372.30L234.85 372.30L234.85 368.40L239.10 368.40L239.10 369.00L243.35 369.00L243.35 372.60L247.60 372.60L247.60 387.50L251.85 387.50L251.85 408.40L256.10 408.40L256.10 422.40L260.35 422.40L260.35 432.40L264.60 432.40L264.60 439.60L268.85 439.60L268.85 445.40L273.10 445.40L273.10 451.50L277.35 451.50L277.35 456.40L281.60 456.40L281.60 460.30L285.85 460.30L285.85 464.10L290.10 464.10L290.10 468.20L294.35 468.20L294.35 472.50L298.60 472.50L298.60 476.70L302.85 476.70L302.85 482.00L307.10 482.00L307.10 486.00L311.35 486.00L311.35 490.50L315.60 490.50L315.60 495.00L319.85 495.00L319.85 500.00 M319.85 500.20L324.10 500.20 M324.10 500.60L324.10 505.00L328.35 505.00L328.35 508.20L332.60 508.20L332.60 508.60L336.85 508.60L336.85 505.30L341.10 505.30L341.10 499.50L345.35 499.50L345.35 487.00 M345.35 479.00L349.60 479.00 M349.60 409.20L349.60 387.50L353.85 387.50L353.85 363.70L358.10 363.70 M358.10 363.30L358.10 362.70L366.60 362.70L366.60 368.80 M366.60 369.00L370.85 369.00L370.85 386.10L375.10 386.10L375.10 403.40 M375.10 406.00L379.35 406.00L379.35 410.00 M379.35 417.50L379.35 417.90L383.60 417.90 M383.60 423.80L383.60 427.40L387.85 427.40 M387.85 428.40L387.85 433.10L392.10 433.10L392.10 438.50L396.35 438.50L396.35 442.80L400.60 442.80L400.60 445.70L404.85 445.70L404.85 447.60L409.10 447.60L409.10 448.62L413.35 448.62L413.35 449.75L417.60 449.75L417.60 450.92L421.85 450.92L421.85 452.09L426.10 452.09L426.10 453.13L430.35 453.13L430.35 453.87L434.60 453.87L434.60 454.61L438.85 454.61L438.85 455.34L443.10 455.34L443.10 455.89L447.35 455.89L447.35 456.42L451.60 456.42L451.60 456.95L455.85 456.95L455.85 457.35 M460.10 457.41L460.10 457.68" stroke="#000000"/>
<path d="M77.60 471.40L77.60 471.50 M81.85 476.70L81.85 476.80 M86.10 477.50L86.10 477.64 M90.35 478.30L90.35 478.48 M94.60 479.10L94.60 479.33 M98.85 479.90L98.85 480.17 M98.85 480.70L103.10 480.70L103.10 481.01 M103.10 481.50L107.35 481.50L107.35 481.85 M107.35 482.30L111.60 482.30L111.60 482.70 M111.60 483.51L115.85 483.51L115.85 483.99 M115.85 484.78L120.10 484.78L120.10 485.35 M120.10 486.05L124.35 486.05L124.35 486.71 M124.35 487.42L128.60 487.42L128.60 488.33 M128.60 488.88L132.85 488.88L132.85 490.24 M132.85 490.35L137.10 490.35L137.10 491.85L141.35 491.85L141.35 493.77L145.60 493.77L145.60 495.68L149.85 495.68L149.85 497.60L154.10 497.60L154.10 499.68L158.35 499.68L158.35 501.84L162.60 501.84L162.60 503.99L166.85 503.99L166.85 506.10L171.10 506.10L171.10 508.10L175.35 508.10L175.35 509.60L179.60 509.60L179.60 510.60L183.85 510.60L183.85 511.00L188.10 511.00L188.10 510.60L192.35 510.60L192.35 509.30L196.60 509.30L196.60 507.10L200.85 507.10L200.85 504.20L205.10 504.20L205.10 501.40L209.35 501.40L209.35 498.50L213.60 498.50L213.60 496.20L217.85 496.20L217.85 494.90L222.10 494.90L222.10 489.40L226.35 489.40L226.35 447.80L230.60 447.80L230.60 425.60L234.85 425.60L234.85 402.60L239.10 402.60L239.10 392.50L243.35 392.50L243.35 406.90L247.60 406.90L247.60 421.60L251.85 421.60L251.85 428.80L256.10 428.80L256.10 435.30L260.35 435.30L260.35 441.00L264.60 441.00L264.60 447.50L268.85 447.50L268.85 453.30L273.10 453.30L273.10 458.40L277.35 458.40L277.35 463.50L281.60 463.50L281.60 468.60L285.85 468.60L285.85 473.40L290.10 473.40L290.10 478.00L294.35 478.00L294.35 482.30L298.60 482.30L298.60 486.40L302.85 486.40L302.85 490.40L307.10 490.40L307.10 494.30L311.35 494.30L311.35 497.50L315.60 497.50L315.60 500.00L319.85 500.00L319.85 500.60L324.10 500.60L324.10 498.20L328.35 498.20L328.35 495.60L332.60 495.60L332.60 492.90L336.85 492.90L336.85 490.00L341.10 490.00L341.10 487.00L345.35 487.00L345.35 474.00L349.60 474.00 M349.60 463.30L349.60 409.20L353.85 409.20L353.85 401.20L358.10 401.20L358.10 363.30L362.35 363.30L362.35 368.80L366.60 368.80L366.60 391.80L370.85 391.80L370.85 403.40L375.10 403.40L375.10 410.00L379.35 410.00L379.35 417.50L383.60 417.50L383.60 423.80L387.85 423.80L387.85 428.40L392.10 428.40L392.10 432.70L396.35 432.70L396.35 436.00L400.60 436.00L400.60 438.90L404.85 438.90L404.85 441.10L409.10 441.10L409.10 443.22L413.35 443.22L413.35 444.88L417.60 444.88L417.60 446.38L421.85 446.38L421.85 447.87L426.10 447.87L426.10 449.27L430.35 449.27L430.35 450.45L434.60 450.45L434.60 451.63L438.85 451.63L438.85 452.81L443.10 452.81L443.10 453.69L447.35 453.69L447.35 454.55L451.60 454.55L451.60 455.40L455.85 455.40L455.85 456.15L460.10 456.15L460.10 456.80L463.00 456.80" stroke="#ff0000"/>
<path d="M77.60 471.50L77.60 471.60 M81.85 476.80L81.85 476.90 M86.10 477.64L86.10 477.87 M86.10 478.48L90.35 478.48L90.35 478.84 M90.35 479.33L94.60 479.33L94.60 479.81 M94.60 480.17L98.85 480.17L98.85 480.77 M98.85 481.01L103.10 481.01L103.10 481.74 M103.10 481.85L107.35 481.85L107.35 482.70L111.60 482.70L111.60 483.68 M111.60 483.99L115.85 483.99L115.85 485.12 M115.85 485.35L120.10 485.35L120.10 486.62 M120.10 486.71L124.35 486.71L124.35 488.13 M124.35 488.33L128.60 488.33L128.60 490.03 M128.60 490.24L132.85 490.24L132.85 492.14L137.10 492.14L137.10 494.11L141.35 494.11L141.35 496.89L145.60 496.89L145.60 499.66L149.85 499.66L149.85 502.44L154.10 502.44L154.10 505.49L158.35 505.49L158.35 508.68L162.60 508.68L162.60 511.87L166.85 511.87L166.85 514.95L171.10 514.95L171.10 517.80L175.35 517.80L175.35 521.60L179.60 521.60L179.60 524.70L183.85 524.70L183.85 527.90L188.10 527.90L188.10 530.50L192.35 530.50L192.35 532.70L196.60 532.70L196.60 534.10L200.85 534.10L200.85 534.80L205.10 534.80L205.10 535.30L209.35 535.30L209.35 535.70L213.60 535.70L213.60 536.30L217.85 536.30L217.85 536.60L222.10 536.60L222.10 529.50L226.35 529.50 M226.35 506.70L226.35 496.60L230.60 496.60 M230.60 475.20L230.60 472.80L234.85 472.80 M234.85 467.70L234.85 456.50L239.10 456.50L239.10 453.30L243.35 453.30L243.35 456.90L247.60 456.90L247.60 463.70L251.85 463.70L251.85 466.00L256.10 466.00L256.10 468.40L260.35 468.40L260.35 470.40L264.60 470.40L264.60 472.60L268.85 472.60L268.85 475.00L273.10 475.00L273.10 477.80L277.35 477.80L277.35 481.20L281.60 481.20L281.60 485.00L285.85 485.00L285.85 489.00L290.10 489.00L290.10 493.00L294.35 493.00L294.35 497.20L298.60 497.20L298.60 501.80L302.85 501.80L302.85 506.00L307.10 506.00L307.10 510.30L311.35 510.30L311.35 514.60L315.60 514.60L315.60 519.20L319.85 519.20L319.85 523.30L324.10 523.30L324.10 526.50L328.35 526.50L328.35 528.30L332.60 528.30L332.60 529.80L336.85 529.80L336.85 530.50L341.10 530.50L341.10 530.80L345.35 530.80L345.35 521.10L349.60 521.10 M349.60 470.70L349.60 463.30L353.85 463.30 M353.85 457.70L353.85 454.00L358.10 454.00 M358.10 447.00L358.10 431.70L362.35 431.70L362.35 432.10L366.60 432.10L366.60 439.60L370.85 439.60L370.85 443.20L375.10 443.20L375.10 445.10L379.35 445.10L379.35 446.80L383.60 446.80L383.60 448.00L387.85 448.00L387.85 449.00L392.10 449.00L392.10 450.00L396.35 450.00L396.35 450.90L400.60 450.90L400.60 451.60L404.85 451.60L404.85 452.30L409.10 452.30L409.10 453.24L413.35 453.24L413.35 453.90L417.60 453.90L417.60 454.46L421.85 454.46L421.85 455.02L426.10 455.02L426.10 455.49L430.35 455.49L430.35 455.79L434.60 455.79L434.60 456.08L438.85 456.08L438.85 456.38L443.10 456.38L443.10 456.70L447.35 456.70L447.35 457.02L451.60 457.02L451.60 457.35L455.85 457.35L455.85 457.68L460.10 457.68L460.10 458.00L463.00 458.00" stroke="#0000ff"/>
<path d="M59.00 460.10L69.10 460.10L69.10 461.10L73.35 461.10L73.35 471.60L77.60 471.60L77.60 476.90L81.85 476.90L81.85 477.87L86.10 477.87L86.10 478.84L90.35 478.84L90.35 479.81L94.60 479.81L94.60 480.77L98.85 480.77L98.85 481.74L103.10 481.74L103.10 482.71L107.35 482.71L107.35 483.68L111.60 483.68L111.60 485.12L115.85 485.12L115.85 486.62L120.10 486.62L120.10 488.13L124.35 488.13L124.35 490.03L128.60 490.03L128.60 492.35L132.85 492.35L132.85 494.66L137.10 494.66L137.10 497.03L141.35 497.03L141.35 500.01L145.60 500.01L145.60 502.99L149.85 502.99L149.85 505.97L154.10 505.97L154.10 509.24L158.35 509.24L158.35 512.63L162.60 512.63L162.60 516.02L166.85 516.02L166.85 519.37L171.10 519.37L171.10 522.60L175.35 522.60L175.35 526.50L179.60 526.50L179.60 529.80L183.85 529.80L183.85 533.40L188.10 533.40L188.10 536.30L192.35 536.30L192.35 538.40L196.60 538.40L196.60 539.90L200.85 539.90L200.85 540.90L205.10 540.90L205.10 541.60L209.35 541.60L209.35 542.00L213.60 542.00L213.60 542.30L222.10 542.30L222.10 537.70L226.35 537.70L226.35 506.70L230.60 506.70L230.60 475.20L234.85 475.20L234.85 467.70L239.10 467.70L239.10 464.50L243.35 464.50L243.35 467.40L247.60 467.40L247.60 472.00L251.85 472.00L251.85 474.20L256.10 474.20L256.10 476.40L260.35 476.40L260.35 478.40L264.60 478.40L264.60 480.40L268.85 480.40L268.85 482.60L273.10 482.60L273.10 485.00L277.35 485.00L277.35 487.80L281.60 487.80L281.60 491.00L285.85 491.00L285.85 494.60L290.10 494.60L290.10 498.40L294.35 498.40L294.35 502.40L298.60 502.40L298.60 506.70L302.85 506.70L302.85 512.00L307.10 512.00L307.10 517.50L311.35 517.50L311.35 522.60L315.60 522.60L315.60 527.60L319.85 527.60L319.85 531.90L324.10 531.90L324.10 535.60L328.35 535.60L328.35 537.70L332.60 537.70L332.60 538.90L336.85 538.90L336.85 539.50L345.35 539.50L345.35 532.70L349.60 532.70L349.60 470.70L353.85 470.70L353.85 457.70L358.10 457.70L358.10 447.00L362.35 447.00L362.35 445.40L366.60 445.40L366.60 449.70L370.85 449.70L370.85 451.90L375.10 451.90L375.10 453.10L379.35 453.10L379.35 453.80L383.60 453.80L383.60 454.40L387.85 454.40L387.85 454.90L392.10 454.90L392.10 455.40L396.35 455.40L396.35 455.80L400.60 455.80L400.60 456.10L404.85 456.10L404.85 456.40L413.35 456.40L413.35 456.57L417.60 456.57L417.60 456.80L421.85 456.80L421.85 457.04L426.10 457.04L426.10 457.26L430.35 457.26L430.35 457.43L434.60 457.43L434.60 457.61L438.85 457.61L438.85 457.79L443.10 457.79L443.10 457.91L447.35 457.91L447.35 458.03L451.60 458.03L451.60 458.15L455.85 458.15L455.85 458.31L460.10 458.31L460.10 458.50L463.00 458.50" stroke="#006400"/>
</g>
<line x1="59.95" y1="459.86" x2="461.90" y2="459.86" stroke="#ff9090" stroke-width="1.0" stroke-dasharray="1.15 2.45" stroke-dashoffset="1.3"/>
<line x1="234.52" y1="545.70" x2="234.52" y2="331.10" stroke="#ffb347" stroke-width="0.9" stroke-dasharray="5.5 4.8" stroke-dashoffset="2.8"/>
<line x1="356.44" y1="545.70" x2="356.44" y2="331.10" stroke="#ffb347" stroke-width="0.9" stroke-dasharray="5.5 4.8" stroke-dashoffset="2.8"/>
<text x="126.70" y="563.90" font-size="14.0" text-anchor="middle" fill="#000" >2790</text>
<text x="211.60" y="563.90" font-size="14.0" text-anchor="middle" fill="#000" >2795</text>
<text x="296.50" y="563.90" font-size="14.0" text-anchor="middle" fill="#000" >2800</text>
<text x="381.40" y="563.90" font-size="14.0" text-anchor="middle" fill="#000" >2805</text>
<rect x="58.19" y="321.58" width="7.42" height="0.9" fill="#000"/>
<text x="66.10" y="325.70" font-size="14.0" text-anchor="start" fill="#000" >1000</text>
<rect x="140.88" y="321.58" width="7.42" height="0.9" fill="#000"/>
<text x="148.79" y="325.70" font-size="14.0" text-anchor="start" fill="#000" >500</text>
<text x="234.52" y="325.70" font-size="14.0" text-anchor="middle" fill="#000" >0</text>
<text x="313.71" y="325.70" font-size="14.0" text-anchor="middle" fill="#000" >500</text>
<text x="392.91" y="325.70" font-size="14.0" text-anchor="middle" fill="#000" >1000</text>
<text x="261.15" y="313.90" font-size="14.0" text-anchor="middle" fill="#000" >Velocity (km/s) Relative to MgII 2796</text>
<text x="55.00" y="339.90" font-size="14.0" text-anchor="end" fill="#000" >2.5</text>
<text x="55.00" y="379.22" font-size="14.0" text-anchor="end" fill="#000" >2.0</text>
<text x="55.00" y="422.14" font-size="14.0" text-anchor="end" fill="#000" >1.5</text>
<text x="55.00" y="465.06" font-size="14.0" text-anchor="end" fill="#000" >1.0</text>
<text x="55.00" y="507.98" font-size="14.0" text-anchor="end" fill="#000" >0.5</text>
<text x="55.00" y="545.50" font-size="14.0" text-anchor="end" fill="#000" >0.0</text>
<text x="260.30" y="578.70" font-size="13.9" text-anchor="middle" fill="#000" >Wavelength (Ang)</text>
<text transform="translate(26.1,438.5) rotate(-90)" font-size="13.9" text-anchor="middle">Relative Flux</text>
<text x="83.20" y="345.60" font-size="16.3" text-anchor="start" fill="#000" >Fiducial</text>
<text x="83.20" y="360.70" font-size="16.3" fill="#ff0000">θ<tspan font-size="10.3" dx="0.9" dy="4.5">b</tspan><tspan dx="-0.6" dy="-4.5">=80</tspan></text>
<text x="83.20" y="375.80" font-size="16.3" fill="#0000ff">θ<tspan font-size="10.3" dx="0.9" dy="4.5">b</tspan><tspan dx="-0.6" dy="-4.5">=45</tspan></text>
<text x="83.20" y="390.90" font-size="16.3" fill="#006400">θ<tspan font-size="10.3" dx="0.9" dy="4.5">b</tspan><tspan dx="-0.6" dy="-4.5">=30</tspan></text>
<text x="180.00" y="352.70" font-size="16.3" text-anchor="start" fill="#000" >MgII</text>
</svg>
</body></html>
